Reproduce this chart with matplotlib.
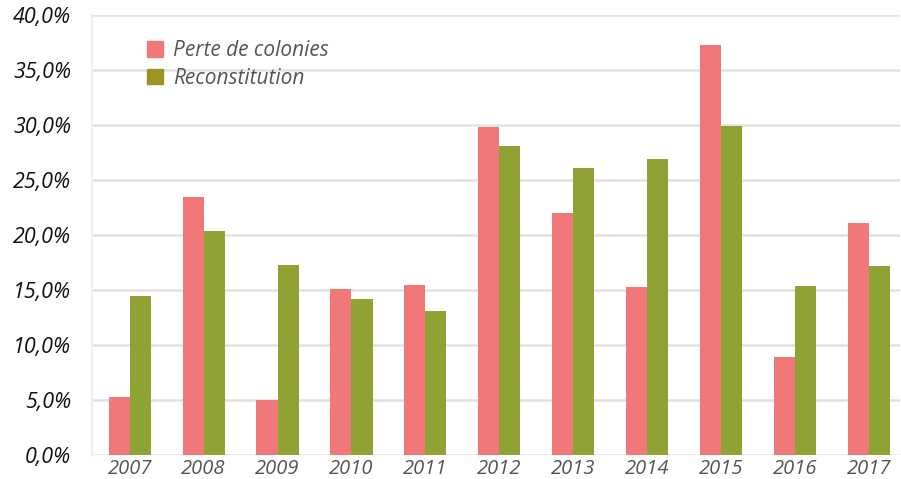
import matplotlib
matplotlib.use("Agg")
import matplotlib.pyplot as plt
import numpy as np
from matplotlib.ticker import FuncFormatter
from matplotlib.patches import Patch

years = ["2007", "2008", "2009", "2010", "2011", "2012", "2013", "2014", "2015", "2016", "2017"]
perte = [5.3, 23.5, 5.0, 15.1, 15.5, 29.8, 22.0, 15.3, 37.3, 8.9, 21.1]
reconst = [14.5, 20.4, 17.3, 14.2, 13.1, 28.1, 26.1, 26.9, 29.9, 15.4, 17.2]
yticks = [0, 5, 10, 15, 20, 25, 30, 35, 40]

plt.rcParams['font.family'] = ['Open Sans', 'DejaVu Sans']

fig = plt.figure(figsize=(9.01, 4.79), dpi=100)
ax = fig.add_axes([92/901, (479-455)/479, (900-92)/901, (455-15)/479])

x = np.arange(len(years))
w = 0.285
ax.bar(x - w/2, perte, w, color="#F07878", label="Perte de colonies", zorder=3)
ax.bar(x + w/2, reconst, w, color="#8FA334", label="Reconstitution", zorder=3)

ax.set_xlim(-0.51, len(years) - 1 + 0.42)
ax.set_ylim(0, 40)
ax.set_yticks(yticks)
ax.yaxis.set_major_formatter(FuncFormatter(lambda v, p: f"{v:.1f}".replace(".", ",") + "%"))
ax.set_xticks(x)
ax.set_xticklabels(years)
ax.grid(axis="y", color="#E2E2E2", linewidth=1.8, zorder=0)
for s in ["top", "right", "bottom"]:
    ax.spines[s].set_visible(False)
ax.spines["left"].set_color("#EEEEEE")
ax.spines["left"].set_linewidth(1.5)
ax.tick_params(axis="both", length=0)
ax.tick_params(axis="y", pad=15, labelsize=15.5, labelcolor="#111111")
ax.tick_params(axis="x", pad=3, labelsize=14.5, labelcolor="#555555")
for t in ax.get_yticklabels() + ax.get_xticklabels():
    t.set_fontstyle("italic")

handles = [Patch(color="#F07878"), Patch(color="#9A9420")]
leg = ax.legend(handles, ["Perte de colonies", "Reconstitution"], loc="upper left",
                bbox_to_anchor=(0.045, 0.985), frameon=False, fontsize=15,
                handlelength=0.75, handleheight=0.75, handletextpad=0.5, labelspacing=0.3)
for t in leg.get_texts():
    t.set_fontstyle("italic")
    t.set_color("#555555")

fig.savefig("out.png", dpi=100)
